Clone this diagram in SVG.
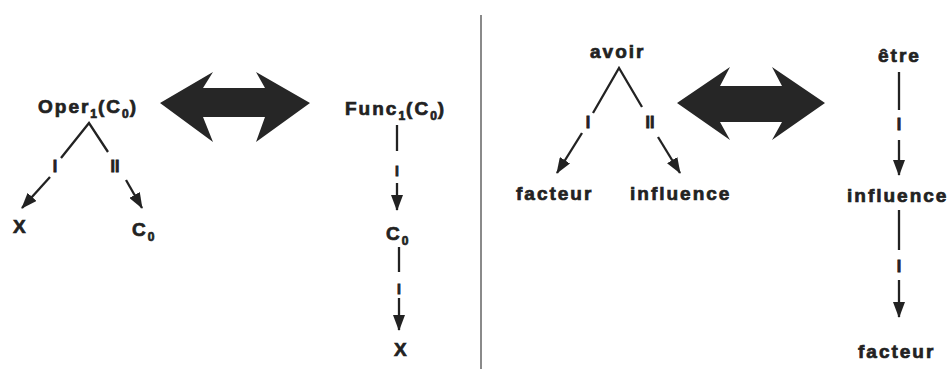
<svg xmlns="http://www.w3.org/2000/svg" width="949" height="369" viewBox="0 0 949 369">
  <style>
    .t { font-family: "Liberation Sans", Arial, sans-serif; font-weight: bold; font-size: 19px; letter-spacing: 2px; fill: #222; stroke: #222; stroke-width: 0.7px; }
    .sub { font-size: 12px; letter-spacing: 1px; }
    .lab { font-family: "Liberation Sans", Arial, sans-serif; font-weight: bold; font-size: 16px; fill: #222; stroke: #222; stroke-width: 0.8px; text-anchor: middle; }
    .ln { stroke: #222; stroke-width: 2.3; fill: none; }
    .arr { marker-end: url(#head); }
    .big { fill: #262626; }
    .sep { stroke: #8a8a8a; stroke-width: 2; }
  </style>
  <defs>
    <marker id="head" viewBox="0 0 16 12" refX="15" refY="6" markerWidth="16" markerHeight="12" markerUnits="userSpaceOnUse" orient="auto">
      <path d="M0,0 L16,6 L0,12 Z" fill="#222"/>
    </marker>
  </defs>

  <rect width="949" height="369" fill="#fff"/>

  <!-- separator between the two examples -->
  <line class="sep" x1="481" y1="15" x2="481" y2="369"/>

  <!-- equivalence arrows -->
  <g id="equiv-left">
    <polygon class="big" points="160,103 213,72 203,88 265,88 256,72 310,103 256,142 265,117 203,117 213,142"/>
  </g>
  <g id="equiv-right">
    <polygon class="big" points="677,103 730,67 720,86 782,86 772,67 825,103 772,140 782,122 720,122 730,140"/>
  </g>

  <!-- nodes -->
  <g id="oper">
    <text class="t" x="38" y="113">Oper<tspan class="sub" dy="5">1</tspan><tspan dy="-5">(C</tspan><tspan class="sub" dy="5">0</tspan><tspan dy="-5">)</tspan></text>
  </g>
  <g id="oper-x">
    <text class="t" x="13" y="233">X</text>
  </g>
  <g id="oper-c0">
    <text class="t" x="132" y="236">C<tspan class="sub" dy="5">0</tspan></text>
  </g>
  <g id="func">
    <text class="t" x="345" y="115">Func<tspan class="sub" dy="5">1</tspan><tspan dy="-5">(C</tspan><tspan class="sub" dy="5">0</tspan><tspan dy="-5">)</tspan></text>
  </g>
  <g id="func-c0">
    <text class="t" x="386" y="240">C<tspan class="sub" dy="5">0</tspan></text>
  </g>
  <g id="func-x">
    <text class="t" x="394" y="356">X</text>
  </g>
  <g id="avoir">
    <text class="t" x="590" y="58">avoir</text>
  </g>
  <g id="avoir-facteur">
    <text class="t" x="516" y="200">facteur</text>
  </g>
  <g id="avoir-influence">
    <text class="t" x="630" y="200">influence</text>
  </g>
  <g id="etre">
    <text class="t" x="878" y="62">être</text>
  </g>
  <g id="etre-influence">
    <text class="t" x="847" y="202">influence</text>
  </g>
  <g id="etre-facteur">
    <text class="t" x="858" y="358">facteur</text>
  </g>

  <!-- connectors with their relation labels -->
  <g id="connectors">
    <!-- Oper1(C0) tree -->
    <polyline class="ln" points="61,158 89,123 108,152"/>
    <line class="ln arr" x1="50" y1="177" x2="22" y2="208"/>
    <line class="ln arr" x1="126" y1="180" x2="142" y2="208"/>
    <text class="lab" x="55" y="172">I</text>
    <text class="lab" x="115" y="172">II</text>

    <!-- Func1(C0) chain -->
    <line class="ln" x1="397" y1="125" x2="397" y2="151"/>
    <text class="lab" x="397" y="176" style="font-size:14px">I</text>
    <line class="ln arr" x1="397" y1="183" x2="397" y2="210"/>
    <line class="ln" x1="399" y1="247" x2="399" y2="272"/>
    <text class="lab" x="399" y="294" style="font-size:14px">I</text>
    <line class="ln arr" x1="399" y1="298" x2="399" y2="330"/>

    <!-- avoir tree -->
    <polyline class="ln" points="593,113 619,68 642,107"/>
    <line class="ln arr" x1="582" y1="133" x2="557" y2="173"/>
    <line class="ln arr" x1="658" y1="137" x2="680" y2="173"/>
    <text class="lab" x="588" y="128">I</text>
    <text class="lab" x="650" y="128">II</text>

    <!-- être chain -->
    <line class="ln" x1="899" y1="72" x2="899" y2="110"/>
    <text class="lab" x="899" y="130">I</text>
    <line class="ln arr" x1="899" y1="140" x2="899" y2="175"/>
    <line class="ln" x1="899" y1="210" x2="899" y2="250"/>
    <text class="lab" x="899" y="272">I</text>
    <line class="ln arr" x1="899" y1="280" x2="899" y2="317"/>
  </g>
</svg>
